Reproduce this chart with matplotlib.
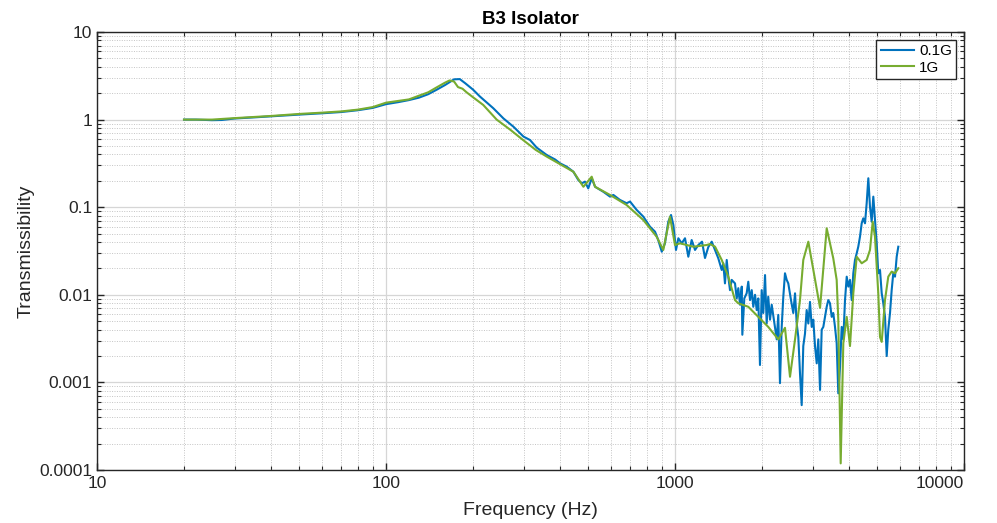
import matplotlib
matplotlib.use("Agg")
import matplotlib.pyplot as plt
from matplotlib.ticker import FixedLocator, FixedFormatter, LogLocator, NullFormatter

plt.rcParams['font.family'] = ['Liberation Sans', 'DejaVu Sans']

# ---- data ----
blue_f = [20, 22, 25, 27, 30, 35, 40, 50, 60, 70, 80, 90, 100, 110, 120, 130, 140, 150, 160, 166, 172, 180,
          188, 200, 211.5, 235, 255, 276, 299, 315, 332, 360, 385, 400, 422, 445, 463, 476, 488, 501, 515,
          529, 565, 596, 612, 645, 680, 699, 737, 777, 819, 853, 875, 900, 923, 948, 969, 987, 1008, 1027,
          1055, 1083, 1112, 1142, 1173, 1204, 1240, 1270, 1304, 1340, 1376, 1412, 1451, 1469, 1489, 1510,
          1529, 1550, 1571, 1613, 1635, 1656, 1679, 1702, 1710, 1737, 1770, 1793, 1818, 1843, 1866, 1892,
          1917, 1942, 1968, 1995, 2021, 2049, 2076, 2102, 2132, 2161, 2218, 2249, 2277, 2308, 2340, 2370,
          2402, 2435, 2466, 2520, 2566, 2602, 2637, 2671, 2707, 2744, 2779, 2817, 2855, 2893, 2932, 2972,
          3010, 3051, 3093, 3132, 3176, 3218, 3260, 3304, 3349, 3392, 3438, 3485, 3529, 3578, 3626, 3673,
          3724, 3774, 3823, 3875, 3928, 3978, 4032, 4087, 4140, 4196, 4254, 4307, 4366, 4426, 4482, 4544,
          4605, 4666, 4728, 4793, 4855, 4920, 4988, 5051, 5121, 5191, 5258, 5329, 5402, 5470, 5546, 5620,
          5692, 5771, 5849, 5925]
blue_t = [1.00, 1.00, 0.985, 0.99, 1.03, 1.06, 1.09, 1.14, 1.18, 1.22, 1.28, 1.36, 1.50, 1.58, 1.67, 1.78,
          1.95, 2.2, 2.48, 2.68, 2.88, 2.9, 2.6, 2.2, 1.83, 1.35, 1.03, 0.83, 0.64, 0.585, 0.48, 0.394, 0.35,
          0.317, 0.29, 0.254, 0.204, 0.187, 0.196, 0.164, 0.214, 0.171, 0.150, 0.132, 0.138, 0.121, 0.111,
          0.116, 0.093, 0.078, 0.060, 0.0525, 0.0422, 0.031, 0.0387, 0.0683, 0.0815, 0.0626, 0.0325, 0.0442,
          0.0387, 0.0442, 0.0272, 0.0422, 0.0325, 0.037, 0.0404, 0.0263, 0.0351, 0.0404, 0.0325, 0.0261,
          0.0192, 0.0229, 0.0135, 0.025, 0.0161, 0.0113, 0.0148, 0.0135, 0.0091, 0.0119, 0.0077, 0.0124,
          0.0035, 0.0091, 0.0104, 0.0141, 0.0087, 0.0113, 0.0073, 0.0100, 0.0067, 0.0091, 0.00158, 0.0113,
          0.0062, 0.0168, 0.0047, 0.0095, 0.0052, 0.0077, 0.0043, 0.0031, 0.0059, 0.00098, 0.0043, 0.0095,
          0.0176, 0.0148, 0.0135, 0.0087, 0.0062, 0.0104, 0.0047, 0.0033, 0.00127, 0.00055, 0.0026, 0.0036,
          0.0067, 0.0047, 0.0083, 0.0043, 0.0052, 0.0026, 0.00165, 0.0031, 0.00082, 0.0040, 0.0043, 0.0056,
          0.0073, 0.0087, 0.0080, 0.0056, 0.0062, 0.0043, 0.0028, 0.00075, 0.0015, 0.0043, 0.0031, 0.0087,
          0.0161, 0.0124, 0.0148, 0.0087, 0.0176, 0.025, 0.0298, 0.0354, 0.046, 0.0655, 0.0747, 0.0655,
          0.111, 0.214, 0.101, 0.0683, 0.132, 0.0714, 0.0387, 0.0176, 0.0192, 0.0104, 0.0080, 0.0056,
          0.0020, 0.0040, 0.0062, 0.0113, 0.0176, 0.0161, 0.0272, 0.0354]

green_f = [20, 25, 30, 40, 50, 60, 70, 80, 90, 100, 120, 140, 150, 160, 166, 172, 177.5, 184, 190, 200,
           217, 241.5, 270, 298, 330, 360, 400, 445, 457, 482, 515, 529, 596, 680, 777, 864, 911, 961,
           1000, 1041, 1157, 1287, 1322, 1376, 1451, 1529, 1613, 1656, 1793, 1942, 2102, 2277, 2402, 2500,
           2602, 2707, 2779, 2893, 3176, 3349, 3529, 3626, 3673, 3744, 3823, 3928, 4032, 4140, 4254, 4426,
           4605, 4728, 4831, 4920, 5051, 5121, 5191, 5329, 5470, 5620, 5771, 5925]
green_t = [1.00, 1.00, 1.04, 1.10, 1.16, 1.20, 1.24, 1.30, 1.39, 1.56, 1.70, 2.05, 2.34, 2.64, 2.80, 2.72,
           2.35, 2.25, 2.05, 1.80, 1.47, 1.0, 0.76, 0.585, 0.45, 0.378, 0.31, 0.254, 0.223, 0.171, 0.223,
           0.171, 0.138, 0.106, 0.0714, 0.046, 0.0325, 0.0779, 0.037, 0.0387, 0.0354, 0.037, 0.038, 0.0354,
           0.025, 0.0161, 0.0087, 0.0080, 0.0073, 0.0056, 0.0043, 0.0031, 0.0042, 0.00116, 0.0031, 0.0087,
           0.025, 0.0404, 0.0071, 0.0574, 0.0261, 0.0148, 0.0052, 0.000119, 0.0028, 0.0056, 0.0026, 0.0104,
           0.0272, 0.0229, 0.025, 0.0325, 0.0683, 0.046, 0.0104, 0.0033, 0.0029, 0.0087, 0.0161, 0.0184,
           0.0176, 0.0201]

series_labels = ['0.1G', '1G']
x_ticks = [10, 100, 1000, 10000]
x_tick_labels = ['10', '100', '1000', '10000']
y_ticks = [0.0001, 0.001, 0.01, 0.1, 1, 10]
y_tick_labels = ['0.0001', '0.001', '0.01', '0.1', '1', '10']

# ---- figure ----
fig = plt.figure(figsize=(9.97, 5.23), dpi=100)
ax = fig.add_axes([97/997, 53/523, 867/997, 438/523])

ax.plot(blue_f, blue_t, color='#0072BD', lw=1.5, label=series_labels[0])
ax.plot(green_f, green_t, color='#77AC30', lw=1.5, label=series_labels[1])
ax.set_xscale('log')
ax.set_yscale('log')
ax.set_xlim(10, 10000)
ax.set_ylim(0.0001, 10)

ax.xaxis.set_major_locator(FixedLocator(x_ticks))
ax.xaxis.set_major_formatter(FixedFormatter(x_tick_labels))
ax.yaxis.set_major_locator(FixedLocator(y_ticks))
ax.yaxis.set_major_formatter(FixedFormatter(y_tick_labels))
ax.xaxis.set_minor_locator(LogLocator(base=10, subs=range(2, 10), numticks=20))
ax.yaxis.set_minor_locator(LogLocator(base=10, subs=range(2, 10), numticks=20))
ax.xaxis.set_minor_formatter(NullFormatter())
ax.yaxis.set_minor_formatter(NullFormatter())

ax.grid(True, which='major', color='#d6d6d6', lw=0.9, ls='-')
ax.grid(True, which='minor', color='#c4c4c4', lw=0.7, ls=(0, (1, 1.5)))
ax.set_axisbelow(True)

ax.tick_params(which='both', direction='in', top=True, right=True, colors='#262626',
               labelsize=12.5, labelcolor='#262626')
ax.tick_params(which='major', length=5, width=1)
ax.tick_params(which='minor', length=3, width=0.8)
ax.tick_params(axis='x', which='major', pad=4)
for s in ax.spines.values():
    s.set_color('#262626')
    s.set_linewidth(1.0)

fig.canvas.draw()
xlabels = ax.get_xticklabels()
xlabels[-1].set_horizontalalignment('right')

ax.set_title('B3 Isolator', fontsize=13.5, fontweight='bold', color='#000000', pad=6)
ax.set_xlabel('Frequency (Hz)', fontsize=14, color='#262626', labelpad=8)
ax.set_ylabel('Transmissibility', fontsize=14, color='#262626', labelpad=3)

leg = ax.legend(loc='upper right', fontsize=11, frameon=True, fancybox=False,
                edgecolor='#262626', framealpha=1, borderaxespad=0.5,
                handlelength=2.2, borderpad=0.3, labelspacing=0.15, handletextpad=0.3)
leg.get_frame().set_linewidth(1.0)

fig.savefig('out.png', dpi=100)
